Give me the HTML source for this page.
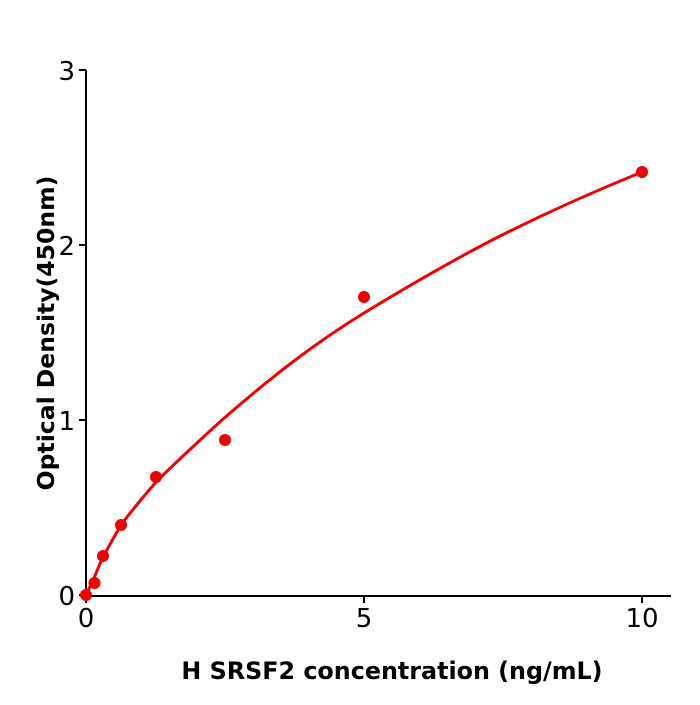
<!DOCTYPE html>
<html><head><style>body{margin:0;background:#fff}</style></head><body>
<svg width="700" height="700" xmlns="http://www.w3.org/2000/svg" font-family="DejaVu Sans, sans-serif">
<rect width="700" height="700" fill="#fff"/>
<g stroke="#000" stroke-width="2" fill="none">
<path d="M86 70 V596 H671"/>
<path d="M79 70H86M79 245H86M79 420H86M79 595H86"/>
<path d="M86 595V603M364 595V603M642 595V603"/>
</g>
<g font-size="26" fill="#000">
<text x="75" y="80" text-anchor="end">3</text>
<text x="75" y="255" text-anchor="end">2</text>
<text x="75" y="430" text-anchor="end">1</text>
<text x="75" y="605" text-anchor="end">0</text>
<text x="86" y="627" text-anchor="middle">0</text>
<text x="364" y="627" text-anchor="middle">5</text>
<text x="642" y="627" text-anchor="middle">10</text>
</g>
<text x="392" y="679" text-anchor="middle" font-size="23.8" font-weight="bold">H  SRSF2 concentration (ng/mL)</text>
<text transform="translate(54,333) rotate(-90)" text-anchor="middle" font-size="23.5" font-weight="bold">Optical Density(450nm)</text>
<path d="M86 595 C90 587,92 582,94 578 C97 571,100 563,103 557 C109 546,115 535,121 525 C132 510,144 496,156 482 C178 460,200 440,222 420 C270 378,315 343,364 313 C410 285,455 259,500 236 C548 212,595 191,642 172" fill="none" stroke="#e00" stroke-width="3"/>
<g fill="#e00">
<circle cx="86" cy="595" r="6"/><circle cx="94.5" cy="583" r="6"/><circle cx="103" cy="556" r="6"/><circle cx="121" cy="525" r="6"/><circle cx="156" cy="477" r="6"/><circle cx="225" cy="440" r="6"/><circle cx="364" cy="297" r="6"/><circle cx="642" cy="172" r="6"/>
</g>
</svg>
</body></html>
